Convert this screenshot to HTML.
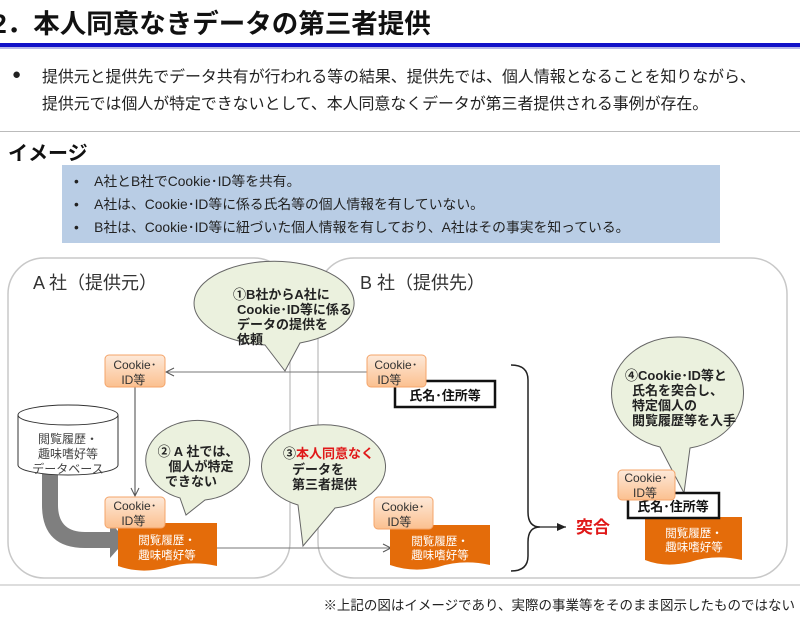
<!DOCTYPE html>
<html><head><meta charset="utf-8"><style>
html,body{margin:0;padding:0;background:#fff;}
body{width:800px;height:620px;position:relative;overflow:hidden;font-family:"Liberation Sans","Noto Sans CJK JP",sans-serif;color:#222;}
.t{position:absolute;white-space:nowrap;}
</style></head><body>
<div class="t" style="left:-8px;top:2px;font-size:26.5px;font-weight:bold;color:#111;">2．本人同意なきデータの第三者提供</div>
<div style="position:absolute;left:0;top:43px;width:800px;height:4px;background:#1010c8;"></div>
<div style="position:absolute;left:0;top:47px;width:800px;height:2px;background:#b8b8e8;"></div>
<div class="t" style="left:12px;top:66px;font-size:15px;">●</div>
<div class="t" style="left:42px;top:64px;font-size:15.9px;line-height:27px;color:#222;">提供元と提供先でデータ共有が行われる等の結果、提供先では、個人情報となることを知りながら、<br>提供元では個人が特定できないとして、本人同意なくデータが第三者提供される事例が存在。</div>
<div style="position:absolute;left:0;top:131px;width:800px;height:1px;background:#bbb;"></div>
<div class="t" style="left:8px;top:137px;font-size:20px;font-weight:bold;color:#111;">イメージ</div>
<div style="position:absolute;left:62px;top:165px;width:658px;height:78px;background:#b9cde5;"></div>
<div class="t" style="left:74px;top:170px;font-size:13.8px;line-height:23px;color:#222;">•&nbsp;&nbsp;&nbsp;&nbsp;A社とB社でCookie･ID等を共有。<br>•&nbsp;&nbsp;&nbsp;&nbsp;A社は、Cookie･ID等に係る氏名等の個人情報を有していない。<br>•&nbsp;&nbsp;&nbsp;&nbsp;B社は、Cookie･ID等に紐づいた個人情報を有しており、A社はその事実を知っている。</div>

<svg width="800" height="620" style="position:absolute;left:0;top:0" xmlns="http://www.w3.org/2000/svg" font-family="Liberation Sans, Noto Sans CJK JP, sans-serif">
<defs>
<linearGradient id="og" x1="0" y1="0" x2="0" y2="1"><stop offset="0" stop-color="#fde9d9"/><stop offset="1" stop-color="#fbc08f"/></linearGradient>
<marker id="ar" markerWidth="10" markerHeight="10" refX="9" refY="5" orient="auto" markerUnits="userSpaceOnUse"><path d="M1,1 L9,5 L1,9" fill="none" stroke="#555" stroke-width="1"/></marker>
<marker id="ar2" markerWidth="10" markerHeight="10" refX="9" refY="5" orient="auto" markerUnits="userSpaceOnUse"><path d="M0,1 L9,5 L0,9 z" fill="#222"/></marker>
</defs>
<rect x="8" y="258" width="282" height="320" rx="36" fill="none" stroke="#c8c8c8" stroke-width="1.5"/>
<rect x="318" y="258" width="469" height="320" rx="36" fill="none" stroke="#c8c8c8" stroke-width="1.5"/>
<text x="33" y="289" font-size="18" fill="#333">A 社（提供元）</text>
<text x="360" y="289" font-size="18" fill="#333">B 社（提供先）</text>

<line x1="367" y1="372" x2="166" y2="372" stroke="#777" stroke-width="1" marker-end="url(#ar)"/>
<line x1="135" y1="387" x2="135" y2="496" stroke="#444" stroke-width="1" marker-end="url(#ar)"/>
<line x1="217" y1="548" x2="391" y2="548" stroke="#777" stroke-width="1" marker-end="url(#ar)"/>
<path d="M48,470 L48,505 Q48,532 75,532 L100,532 L100,522 L116,540 L100,558 L100,548 L75,548 Q32,548 32,505 L32,470 Z" fill="#7f7f7f" transform="translate(10,0)"/>
<path d="M18,415 L18,465 A50,10 0 0 0 118,465 L118,415" fill="#fff" stroke="#333"/>
<ellipse cx="68" cy="415" rx="50" ry="10" fill="#fff" stroke="#333"/>
<text font-size="12" fill="#444" text-anchor="middle"><tspan x="68" y="443">閲覧履歴・</tspan><tspan x="68" y="458">趣味嗜好等</tspan><tspan x="68" y="473">データベース</tspan></text>

<g fill="#ebf1de" stroke="#666" stroke-width="1">
<path d="M265,345 L285,371 L300,343 A80,42 0 1 0 265,345 Z"/>
<path d="M180,498 L186,515 L205,500 A52,40 0 1 0 180,498 Z"/>
<path d="M298,505 L303,546 L335,508 A62,42 0 1 0 298,505 Z"/>
<path d="M660,447 L684,493 L690,448 A66,56 0 1 0 660,447 Z"/>
</g>
<text font-size="13" font-weight="bold" fill="#222"><tspan x="233" y="299">①B社からA社に</tspan><tspan x="237" y="314">Cookie･ID等に係る</tspan><tspan x="237" y="329">データの提供を</tspan><tspan x="237" y="344">依頼</tspan></text>
<text font-size="13" font-weight="bold" fill="#222" text-anchor="middle"><tspan x="198" y="456">② A 社では、</tspan><tspan x="201" y="471">個人が特定</tspan><tspan x="191" y="486">できない</tspan></text>
<text font-size="13" font-weight="bold" fill="#222"><tspan x="283" y="458">③<tspan fill="#e01818">本人同意なく</tspan></tspan><tspan x="292" y="474">データを</tspan><tspan x="292" y="489">第三者提供</tspan></text>
<text font-size="13" font-weight="bold" fill="#222"><tspan x="625" y="380">④Cookie･ID等と</tspan><tspan x="632" y="395">氏名を突合し、</tspan><tspan x="632" y="410">特定個人の</tspan><tspan x="632" y="425">閲覧履歴等を入手</tspan></text>

<g fill="#e46c0a">
<path d="M118,523 L217,523 L217,566 Q190,560 165,568 Q140,574 118,566 Z"/>
<path d="M390,525 L490,525 L490,565 Q463,559 438,567 Q413,573 390,565 Z"/>
<path d="M645,517 L742,517 L742,560 Q715,554 690,562 Q665,568 645,560 Z"/>
</g>
<text font-size="11.5" fill="#fff" text-anchor="middle"><tspan x="167" y="544">閲覧履歴・</tspan><tspan x="167" y="559">趣味嗜好等</tspan><tspan x="440" y="545">閲覧履歴・</tspan><tspan x="440" y="559">趣味嗜好等</tspan><tspan x="694" y="537">閲覧履歴・</tspan><tspan x="694" y="551">趣味嗜好等</tspan></text>

<rect x="395" y="381" width="100" height="26" fill="#fff" stroke="#111" stroke-width="2.5"/>
<text x="445" y="400" font-size="13" font-weight="bold" text-anchor="middle" fill="#111">氏名･住所等</text>
<rect x="628" y="493" width="91" height="25" fill="#fff" stroke="#111" stroke-width="2.5"/>
<text x="673" y="511" font-size="13" font-weight="bold" text-anchor="middle" fill="#111">氏名･住所等</text>

<g fill="url(#og)" stroke="#f4a46a" stroke-width="1">
<rect x="105" y="355" width="60" height="32" rx="4"/>
<rect x="367" y="355" width="59" height="32" rx="4"/>
<rect x="105" y="497" width="60" height="31" rx="4"/>
<rect x="374" y="497" width="59" height="32" rx="4"/>
<rect x="618" y="470" width="57" height="30" rx="4"/>
</g>
<text font-size="12" fill="#333" text-anchor="middle">
<tspan x="135" y="369">Cookie･</tspan><tspan x="135" y="384">ID等</tspan>
<tspan x="396" y="369">Cookie･</tspan><tspan x="391" y="384">ID等</tspan>
<tspan x="135" y="510">Cookie･</tspan><tspan x="135" y="525">ID等</tspan>
<tspan x="403" y="511">Cookie･</tspan><tspan x="401" y="526">ID等</tspan>
<tspan x="646" y="482">Cookie･</tspan><tspan x="645" y="497">ID等</tspan>
</text>

<path d="M511,365 Q528,365 528,380 L528,512 Q528,527 540,527 Q528,527 528,542 L528,556 Q528,571 511,571" fill="none" stroke="#222" stroke-width="1.5"/>
<line x1="540" y1="527" x2="566" y2="527" stroke="#222" stroke-width="1.2" marker-end="url(#ar2)"/>
<text x="576" y="533" font-size="17" font-weight="bold" fill="#e01818">突合</text>

<line x1="0" y1="585" x2="800" y2="585" stroke="#bbb" stroke-width="1"/>
<text x="795" y="610" font-size="13.5" text-anchor="end" fill="#222">※上記の図はイメージであり、実際の事業等をそのまま図示したものではない</text>
</svg>
</body></html>
